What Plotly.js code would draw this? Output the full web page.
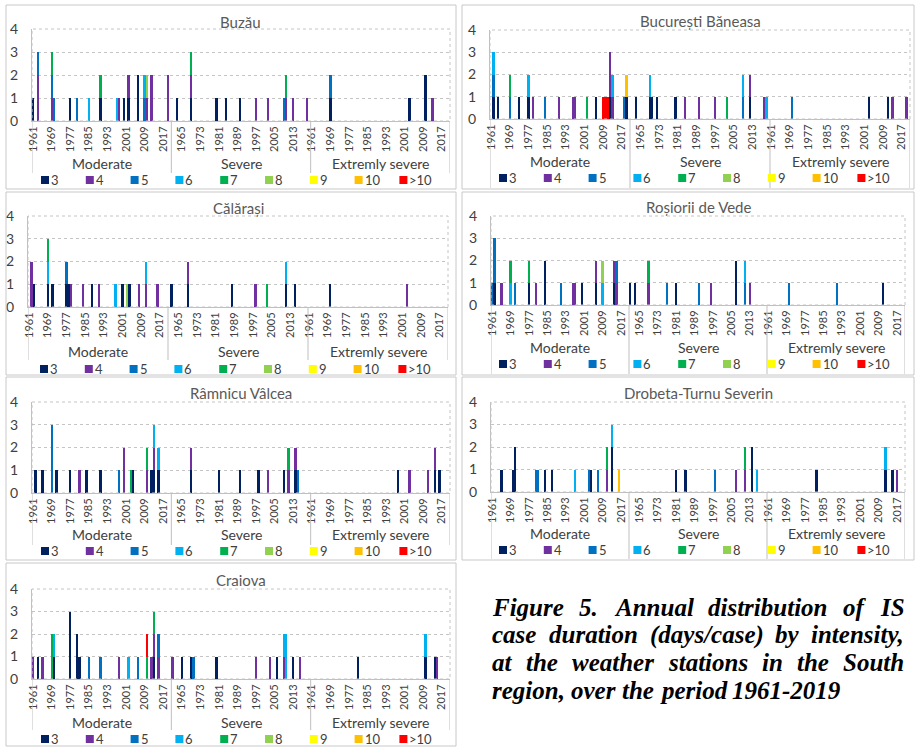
<!DOCTYPE html>
<html><head><meta charset="utf-8">
<script src="https://cdn.plot.ly/plotly-3.0.1.min.js"></script>
<style>html,body{margin:0;padding:0;background:#fff}#chart{width:918px;height:749px}</style>
</head><body><div id="chart"></div>
<script>
// ---------- categories ----------
const durationClasses = ["3","4","5","6","7","8","9","10",">10"];
const classColors = ["#002060","#7030A0","#0070C0","#00B0F0","#00B050","#92D050","#FFFF00","#FFC000","#FF0000"];
const intensityGroups = ["Moderate","Severe","Extremly severe"];
const groupCodes = ["M","S","E"];
const firstYear = 1961;
const yearSlots = [];
for (let y = 1961; y <= 2020; y++) yearSlots.push(y);
const labelEvery = 8;
const stationNames = ["Buzău","București Băneasa","Călărași","Roșiorii de Vede","Râmnicu Vâlcea","Drobeta-Turnu Severin","Craiova"];

// ---------- data: [intensity group, year, duration class, number of cases] ----------
const buzau = [
["M",1961,"3",1],["M",1963,"4",2],["M",1963,"5",1],["M",1969,"4",1],["M",1969,"5",1],["M",1969,"7",1],
["M",1970,"5",1],["M",1977,"3",1],["M",1980,"5",1],["M",1985,"6",1],["M",1990,"3",1],["M",1990,"7",1],
["M",1997,"6",1],["M",1998,"4",1],["M",2000,"3",1],["M",2002,"3",1],["M",2002,"4",1],["M",2006,"3",2],
["M",2009,"5",1],["M",2009,"6",1],["M",2010,"4",1],["M",2010,"8",1],["M",2012,"4",2],["M",2019,"4",2],
["S",1963,"3",1],["S",1969,"3",1],["S",1969,"4",1],["S",1969,"7",1],["S",1980,"3",1],["S",1984,"3",1],
["S",1990,"3",1],["S",1997,"4",1],["S",2002,"4",1],["S",2009,"5",1],["S",2010,"4",1],["S",2010,"7",1],
["S",2013,"4",1],["S",2019,"4",1],
["E",1969,"3",1],["E",1969,"5",1],["E",2003,"3",1],["E",2010,"3",2],["E",2013,"4",1]
];
const bucuresti = [
["M",1962,"3",1],["M",1962,"5",1],["M",1962,"6",1],["M",1964,"3",1],["M",1969,"5",1],["M",1969,"7",1],
["M",1973,"3",1],["M",1977,"3",1],["M",1977,"6",1],["M",1979,"4",1],["M",1984,"5",1],["M",1990,"4",1],
["M",1996,"4",1],["M",1997,"4",1],["M",2002,"7",1],["M",2006,"3",1],["M",2009,">10",1],["M",2010,">10",1],
["M",2011,">10",1],["M",2012,"3",1],["M",2012,"4",2],["M",2013,"4",1],["M",2013,"6",1],["M",2018,"5",1],
["M",2019,"3",1],["M",2019,"10",1],
["S",1963,"3",1],["S",1969,"3",1],["S",1969,"6",1],["S",1970,"3",1],["S",1972,"3",1],["S",1980,"3",1],
["S",1984,"4",1],["S",1990,"4",1],["S",1997,"4",1],["S",2002,"7",1],["S",2009,"5",1],["S",2009,"6",1],
["S",2012,"3",1],["S",2012,"4",1],["S",2018,"4",1],["S",2019,"6",1],
["E",1970,"5",1],["E",2003,"3",1],["E",2011,"3",1],["E",2013,"4",1],["E",2019,"4",1]
];
const calarasi = [
["M",1962,"4",2],["M",1963,"3",1],["M",1969,"3",1],["M",1969,"6",1],["M",1969,"7",1],["M",1971,"3",1],
["M",1977,"3",1],["M",1977,"5",1],["M",1978,"3",1],["M",1979,"4",1],["M",1984,"4",1],["M",1988,"3",1],
["M",1991,"4",1],["M",1998,"6",1],["M",2001,"3",1],["M",2003,"8",1],["M",2004,"3",1],["M",2008,"4",1],
["M",2011,"4",1],["M",2011,"6",1],["M",2016,"4",1],
["S",1962,"3",1],["S",1969,"3",1],["S",1969,"4",1],["S",1988,"3",1],["S",1998,"4",1],["S",2003,"7",1],
["S",2011,"3",1],["S",2011,"6",1],["S",2015,"3",1],
["E",1970,"3",1],["E",2003,"4",1]
];
const rosiori = [
["M",1961,"5",1],["M",1962,"3",1],["M",1962,"5",2],["M",1965,"4",1],["M",1969,"6",1],["M",1969,"7",1],
["M",1971,"5",1],["M",1977,"3",1],["M",1977,"7",1],["M",1980,"4",1],["M",1984,"3",2],["M",1991,"5",1],
["M",1996,"4",1],["M",1997,"4",1],["M",2000,"3",1],["M",2006,"3",1],["M",2006,"4",1],["M",2009,"6",1],
["M",2009,"8",1],["M",2014,"3",1],["M",2014,"4",1],["M",2015,"4",1],["M",2015,"5",1],
["S",1961,"3",1],["S",1963,"3",1],["S",1969,"4",1],["S",1969,"7",1],["S",1977,"5",1],["S",1981,"3",1],
["S",1991,"5",1],["S",1996,"4",1],["S",2007,"3",2],["S",2011,"5",1],["S",2011,"6",1],["S",2013,"4",1],
["E",1970,"5",1],["E",1991,"5",1],["E",2011,"3",1]
];
const ramnicu = [
["M",1962,"3",1],["M",1965,"3",1],["M",1969,"5",3],["M",1971,"3",1],["M",1977,"3",1],["M",1981,"4",1],
["M",1984,"3",1],["M",1990,"3",1],["M",1998,"5",1],["M",2000,"4",2],["M",2003,"7",1],["M",2004,"3",1],
["M",2010,"4",1],["M",2010,"7",1],["M",2012,"3",1],["M",2013,"3",1],["M",2013,"4",1],["M",2013,"6",1],
["M",2015,"3",1],["M",2015,"6",1],
["S",1969,"3",1],["S",1969,"4",1],["S",1981,"3",1],["S",1990,"3",1],["S",1998,"3",1],["S",2002,"4",1],
["S",2009,"3",1],["S",2011,"4",1],["S",2011,"7",1],["S",2014,"3",1],["S",2014,"4",1],["S",2015,"5",1],
["E",1998,"3",1],["E",2003,"4",1],["E",2011,"4",1],["E",2014,"3",1],["E",2014,"4",1],["E",2016,"3",1]
];
const drobeta = [
["M",1965,"3",1],["M",1970,"3",1],["M",1971,"3",2],["M",1980,"5",1],["M",1981,"5",1],["M",1984,"3",1],
["M",1987,"3",1],["M",1997,"6",1],["M",2003,"5",1],["M",2004,"3",1],["M",2007,"5",1],["M",2011,"4",1],
["M",2011,"7",1],["M",2013,"3",2],["M",2013,"6",1],["M",2016,"10",1],
["S",1981,"3",1],["S",1985,"3",1],["S",1998,"5",1],["S",2007,"4",1],["S",2011,"4",1],["S",2011,"7",1],
["S",2014,"3",2],["S",2016,"6",1],
["E",1982,"3",1],["E",2012,"3",1],["E",2012,"6",1],["E",2015,"3",1],["E",2017,"4",1]
];
const craiova = [
["M",1961,"4",1],["M",1963,"3",1],["M",1965,"4",1],["M",1969,"7",2],["M",1970,"3",1],["M",1970,"6",1],
["M",1977,"3",3],["M",1980,"3",2],["M",1981,"3",1],["M",1985,"5",1],["M",1990,"5",1],["M",1998,"4",1],
["M",2002,"6",1],["M",2006,"5",1],["M",2010,">10",1],["M",2010,"7",1],["M",2012,"4",1],["M",2013,"3",1],
["M",2013,"4",1],["M",2013,"7",1],["M",2015,"4",1],["M",2015,"5",1],
["S",1961,"4",1],["S",1965,"3",1],["S",1969,"3",1],["S",1970,"5",1],["S",1980,"3",1],["S",1997,"4",1],
["S",2003,"4",1],["S",2006,"3",1],["S",2009,"4",1],["S",2009,"6",1],["S",2010,"6",2],["S",2013,"3",1],
["S",2016,"4",1],
["E",1981,"3",1],["E",2010,"3",1],["E",2010,"6",1],["E",2014,"3",1],["E",2015,"4",1]
];
const stationData = [buzau, bucuresti, calarasi, rosiori, ramnicu, drobeta, craiova];

const captionLines = [
"Figure 5. Annual distribution of IS",
"case duration (days/case) by intensity,",
"at the weather stations in the South",
"region, over the period 1961-2019"
];

// ---------- page geometry (pixels) ----------
const W = 918, H = 749;
const panelGeom = [
 {box:[6,5,456,189],    plot:[32,29,450,121],  titleY:22,  groupY:164, sepY:173, legX:45,  legY:180},
 {box:[462,5,914,189],  plot:[490,30,910,119], titleY:21,  groupY:161, sepY:188, legX:503, legY:178},
 {box:[6,192,456,375],  plot:[28,216,448,307], titleY:208, groupY:351, sepY:360, legX:44,  legY:369},
 {box:[462,192,914,375],plot:[491,216,905,305],titleY:207, groupY:347, sepY:374, legX:503, legY:364},
 {box:[6,377,456,560],  plot:[32,402,450,493], titleY:393, groupY:534, sepY:545, legX:45,  legY:551},
 {box:[462,377,914,560],plot:[491,402,905,492],titleY:393, groupY:533, sepY:559, legX:503, legY:550},
 {box:[6,563,456,746],  plot:[32,589,450,679], titleY:580, groupY:722, sepY:730, legX:45,  legY:739}
];
const legendStep = 44.8, swatch = 8;
const FONT = "Lato, 'Liberation Sans', sans-serif";
const TXT = "#404040";
const px = v => v / W, py = v => 1 - v / H;

const nSlots = yearSlots.length;
const nCats = nSlots * intensityGroups.length;
const tickvals = [], ticktext = [];
for (let i = 0; i < nCats; i += labelEvery) { tickvals.push(i); ticktext.push(String(yearSlots[i % nSlots])); }

const traces = [];
const layout = {
  width: W, height: H, margin: {l:0, r:0, t:0, b:0},
  paper_bgcolor: "#fff", plot_bgcolor: "#fff",
  barmode: "stack", hovermode: false, showlegend: false,
  font: {family: FONT, color: TXT},
  shapes: [], annotations: []
};

stationNames.forEach((name, pi) => {
  const g = panelGeom[pi];
  const sfx = pi === 0 ? "" : String(pi + 1);
  const data = stationData[pi];
  durationClasses.forEach((cls, ci) => {
    const recs = data.filter(r => r[2] === cls);
    traces.push({
      type: "bar", name: cls,
      x: recs.map(r => groupCodes.indexOf(r[0]) * nSlots + (r[1] - firstYear)),
      y: recs.map(r => r[3]),
      width: 1,
      marker: {color: classColors[ci], line: {width: 0}},
      xaxis: "x" + sfx, yaxis: "y" + sfx,
      showlegend: false, hoverinfo: "skip"
    });
  });
  const [L, T, R, B] = g.plot;
  layout["xaxis" + sfx] = {
    domain: [px(L), px(R)], anchor: "y" + sfx, range: [-0.5, nCats - 0.5],
    tickmode: "array", tickvals: tickvals, ticktext: ticktext, tickangle: -90,
    tickfont: {size: 11, color: TXT, family: FONT},
    showline: true, linecolor: "#bfbfbf", linewidth: 1, showgrid: false, zeroline: false,
    ticks: "", fixedrange: true
  };
  layout["yaxis" + sfx] = {
    domain: [py(B), py(T)], anchor: "x" + sfx, range: [0, 4], tick0: 0, dtick: 1,
    showgrid: true, gridcolor: "#c4c4c4", griddash: "dot", gridwidth: 1,
    showline: true, linecolor: "#bfbfbf", zeroline: false,
    tickfont: {size: 14, color: TXT, family: FONT}, ticks: "", ticklabelstandoff: 10, fixedrange: true
  };
  const [bx0, by0, bx1, by1] = g.box;
  layout.shapes.push({type: "rect", xref: "paper", yref: "paper", x0: px(bx0), x1: px(bx1), y0: py(by1), y1: py(by0),
    line: {color: "#c8c8c8", width: 1}});
  layout.shapes.push({type: "rect", xref: "x" + sfx + " domain", yref: "y" + sfx + " domain", x0: 0, x1: 1, y0: 0, y1: 1,
    line: {color: "#c4c4c4", width: 1, dash: "dot"}});
  for (let k = 0; k <= intensityGroups.length; k++) {
    const b = k * nSlots - 0.5;
    layout.shapes.push({type: "line", xref: "x" + sfx, yref: "paper", x0: b, x1: b, y0: py(B), y1: py(g.sepY),
      line: {color: "#bfbfbf", width: 1}});
  }
  layout.annotations.push({xref: "x" + sfx + " domain", yref: "paper", x: 0.5, y: py(g.titleY), yanchor: "middle",
    text: name, showarrow: false, font: {size: 15, color: "#595959", family: FONT}});
  intensityGroups.forEach((grp, k) => {
    layout.annotations.push({xref: "x" + sfx, yref: "paper", x: k * nSlots + (nSlots - 1) / 2, y: py(g.groupY),
      yanchor: "middle", text: grp, showarrow: false, borderpad: 0, font: {size: 14, color: TXT, family: FONT}});
  });
  // legend row (one swatch + label per duration class)
  durationClasses.forEach((cls, ci) => {
    const sx = g.legX + ci * legendStep;
    layout.shapes.push({type: "rect", xref: "paper", yref: "paper",
      x0: px(sx - swatch / 2), x1: px(sx + swatch / 2), y0: py(g.legY + swatch / 2), y1: py(g.legY - swatch / 2),
      line: {width: 0}, fillcolor: classColors[ci]});
    layout.annotations.push({xref: "paper", yref: "paper", x: px(sx + swatch / 2 + 1), y: py(g.legY),
      xanchor: "left", yanchor: "middle", text: cls, showarrow: false, borderpad: 0,
      font: {size: 13, color: TXT, family: FONT}});
  });
});

// ---------- caption (justified like the reference) ----------
const capLeft = 492, capRight = 904, capY = [607, 634.7, 662.4, 690.1], capSize = 25;
const ctx = document.createElement("canvas").getContext("2d");
ctx.font = "italic bold " + capSize + "px 'Liberation Serif'";
captionLines.forEach((line, li) => {
  const words = line.split(" ");
  const widths = words.map(w => ctx.measureText(w).width);
  const total = widths.reduce((a, b) => a + b, 0);
  const justify = li < captionLines.length - 1;
  const gap = justify ? (capRight - capLeft - total) / (words.length - 1) : ctx.measureText(" ").width;
  let x = capLeft;
  words.forEach((w, wi) => {
    layout.annotations.push({xref: "paper", yref: "paper", x: px(x), y: py(capY[li]), xanchor: "left", yanchor: "middle",
      text: w, showarrow: false, borderpad: 0, borderwidth: 0,
      font: {family: "'Liberation Serif', 'Times New Roman', serif", size: capSize, color: "#000", weight: "bold", style: "italic"}});
    x += widths[wi] + gap;
  });
});

Plotly.newPlot("chart", traces, layout, {displayModeBar: false, staticPlot: true});
</script>
</body></html>
